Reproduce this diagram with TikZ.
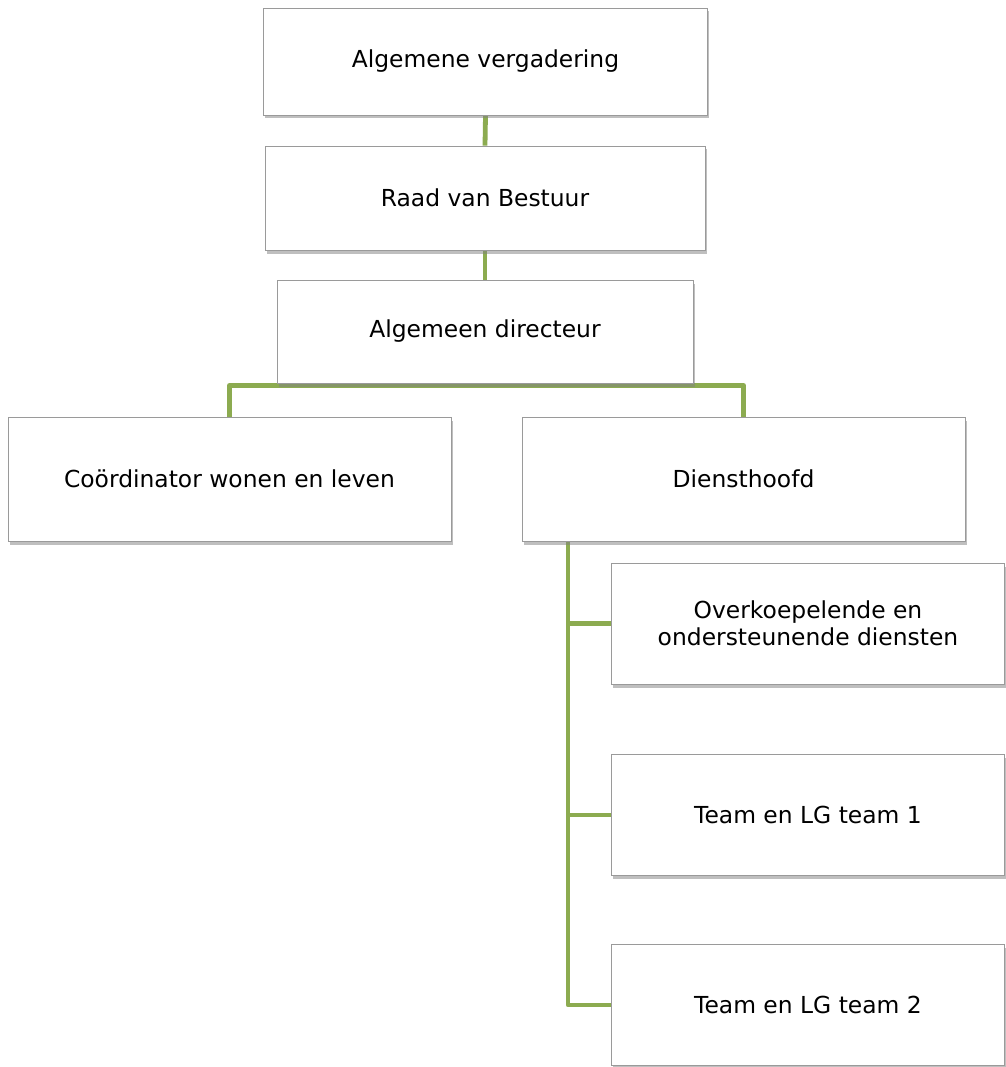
\documentclass[tikz,border=0pt]{standalone}
\usepackage{fontspec}
\setmainfont{DejaVu Sans}
\usetikzlibrary{shadows,backgrounds,calc}
\definecolor{olivegreen}{HTML}{8CAB50}
\definecolor{boxborder}{HTML}{9A9A9A}
\tikzset{
  orgbox/.style={draw=boxborder, line width=0.9pt, fill=white, rectangle,
    align=center, font=\fontsize{23.4}{27}\selectfont, inner sep=0pt,
    drop shadow={shadow xshift=1.5pt, shadow yshift=-3.5pt, opacity=0.5, fill=black!50}},
  conn/.style={draw=olivegreen, line width=4.8pt, line join=round}
}
\begin{document}
\begin{tikzpicture}[x=1pt,y=-1pt]
\useasboundingbox (0,0) rectangle (1005,1067);
\node[orgbox, minimum width=444pt, minimum height=107pt] (av) at (485.5,61.5) {Algemene vergadering};
\node[orgbox, minimum width=440pt, minimum height=104pt] (rvb) at (485,198) {Raad van Bestuur};
\node[orgbox, minimum width=416pt, minimum height=103pt] (ad) at (485,331.5) {Algemeen directeur};
\node[orgbox, minimum width=443pt, minimum height=124pt] (cwl) at (229.5,479) {Coördinator wonen en leven};
\node[orgbox, minimum width=443pt, minimum height=124pt] (dh) at (743.5,479) {Diensthoofd};
\node[orgbox, minimum width=393pt, minimum height=121pt] (ood) at (808,623.5) {Overkoepelende en\\ondersteunende diensten};
\node[orgbox, minimum width=393pt, minimum height=121pt] (t1) at (808,815) {Team en LG team 1};
\node[orgbox, minimum width=393pt, minimum height=121pt] (t2) at (808,1005) {Team en LG team 2};
\begin{scope}[on background layer]
\coordinate (bar) at ($(ad.south)+(0,2)$);
\draw[conn] (av.south) -- (rvb.north);
\draw[conn] (rvb.south) -- (ad.north);
\draw[conn] (cwl.north) -- (bar -| cwl.north) -- (bar -| dh.north) -- (dh.north);
\coordinate (trunk) at (568,541);
\draw[conn] (trunk) |- (t2.west);
\draw[conn] (trunk |- ood.west) -- (ood.west);
\draw[conn] (trunk |- t1.west) -- (t1.west);
\end{scope}
\end{tikzpicture}
\end{document}
